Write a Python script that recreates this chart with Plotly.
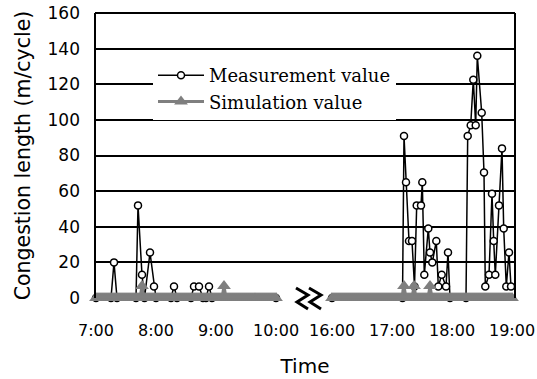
import plotly.graph_objects as go

# ---------------- data ----------------
GAP = 56  # width of the axis break (in axis minutes) between 10:00 and 16:00

tick_labels = ["7:00", "8:00", "9:00", "10:00", "16:00", "17:00", "18:00", "19:00"]
y_ticks = [0, 20, 40, 60, 80, 100, 120, 140, 160]

# Measurement, morning segment (minutes after 7:00)
meas1_min = [0, 15, 18, 21, 40, 42, 46, 48.5, 54, 58, 60, 75, 78, 81, 95, 98, 103,
             107, 110, 113, 116, 180]
meas1_val = [0, 0, 20, 0, 0, 52, 13, 0, 25.5, 6.5, 0, 0, 6.5, 0, 0, 6.5, 6.5,
             0, 0, 6.5, 0, 0]

# Measurement, evening segment (minutes after 16:00)
meas2_min = [0, 70.5, 72, 74, 77, 80, 82.5, 84.7, 89, 90.3,
             92.3, 96.3, 98, 100.3, 104.3, 106.3, 109.7, 114, 116, 118,
             134, 135.7, 138.7, 141.3, 143.7, 145.3, 149.7, 152, 153.3, 157,
             160, 161.7, 163.3, 167, 170, 171.7, 174.3, 177, 179]
meas2_val = [0, 0, 91, 65, 32, 32, 6.5, 52, 52, 65,
             13, 39, 25.5, 20, 32, 6.5, 13, 6.5, 25.5, 0,
             0, 91, 97, 122.5, 97, 136, 104, 70.5, 6.5, 13,
             58.5, 32, 13, 52, 84, 39, 6.5, 25.5, 6.5]

# Simulation, one value per 2-minute cycle
sim_cycle_min = list(range(0, 181, 2))
sim1_val = [0, 0, 0, 0, 0, 0, 0, 0, 0, 0,
            0, 0, 0, 0, 0, 0, 0, 0, 0, 0,
            0, 0, 0, 6.7, 0, 0, 0, 0, 0, 0,
            0, 0, 0, 0, 0, 0, 0, 0, 0, 0,
            0, 0, 0, 0, 0, 0, 0, 0, 0, 0,
            0, 0, 0, 0, 0, 0, 0, 0, 0, 0,
            0, 0, 0, 0, 6.7, 0, 0, 0, 0, 0,
            0, 0, 0, 0, 0, 0, 0, 0, 0, 0,
            0, 0, 0, 0, 0, 0, 0, 0, 0, 0,
            0]
sim2_val = [0, 0, 0, 0, 0, 0, 0, 0, 0, 0,
            0, 0, 0, 0, 0, 0, 0, 0, 0, 0,
            0, 0, 0, 0, 0, 0, 0, 0, 0, 0,
            0, 0, 0, 0, 0, 0, 6.7, 0, 0, 0,
            0, 6.7, 0, 0, 0, 0, 0, 0, 0, 6.7,
            0, 0, 0, 0, 0, 0, 0, 0, 0, 0,
            0, 0, 0, 0, 0, 0, 0, 0, 0, 0,
            0, 0, 0, 0, 0, 0, 0, 0, 0, 0,
            0, 0, 0, 0, 0, 0, 0, 0, 0, 0,
            0]

# ---------------- helpers ----------------
def seg2(m):
    return [v + 180 + GAP for v in m]

def label_pos(lbl):
    h, mm = map(int, lbl.split(":"))
    return (h - 7) * 60 + mm if h < 12 else (h - 16) * 60 + mm + 180 + GAP

# ---------------- figure ----------------
fig = go.Figure()

meas_x = meas1_min + [None] + seg2(meas2_min)
meas_y = meas1_val + [None] + meas2_val
sim_x = sim_cycle_min + [None] + seg2(sim_cycle_min)
sim_y = sim1_val + [None] + sim2_val

fig.add_trace(go.Scatter(
    x=meas_x, y=meas_y, mode="lines+markers", name="Measurement value",
    line=dict(color="black", width=1.5),
    marker=dict(symbol="circle", size=7, color="white",
                line=dict(color="black", width=1.5)),
    cliponaxis=False, connectgaps=False))

fig.add_trace(go.Scatter(
    x=sim_x, y=sim_y, mode="lines+markers", name="Simulation value",
    line=dict(color="#7f7f7f", width=3),
    marker=dict(symbol="triangle-up", size=12, color="#7f7f7f"),
    cliponaxis=False, connectgaps=False))

W, H = 537, 379
L, R, T, B = 95, 22, 13, 81
pw, ph = W - L - R, H - T - B

def px(x):
    return (x - L) / pw

def py(y):
    return (H - B - y) / ph

shapes = []
# frame: left, top, right
for (x0, y0, x1, y1) in [(0, 0, 0, 1), (0, 1, 1, 1), (1, 0, 1, 1)]:
    shapes.append(dict(type="line", xref="paper", yref="paper", x0=x0, y0=y0,
                       x1=x1, y1=y1, line=dict(color="black", width=2), layer="above"))
# white gap in the bottom line at the break
shapes.append(dict(type="rect", xref="paper", yref="paper",
                   x0=px(290), x1=px(324), y0=py(304), y1=py(292),
                   fillcolor="white", line=dict(width=0), layer="above"))
# break symbol: two zigzags
for gx in (296, 309):
    path = "M {} {} L {} {} L {} {} L {} {}".format(
        px(gx), py(288), px(gx + 12), py(295), px(gx + 1), py(302), px(gx + 12), py(309))
    shapes.append(dict(type="path", xref="paper", yref="paper", path=path,
                       line=dict(color="black", width=3), layer="above"))

fig.update_layout(
    width=W, height=H,
    margin=dict(l=L, r=R, t=T, b=B, autoexpand=False),
    paper_bgcolor="white", plot_bgcolor="white",
    showlegend=True,
    legend=dict(x=px(153), y=py(57), xanchor="left", yanchor="top",
                bgcolor="white", borderwidth=0, itemwidth=46,
                font=dict(family="DejaVu Serif", size=18, color="black"),
                tracegroupgap=0),
    shapes=shapes,
    xaxis=dict(range=[-1, 419], showgrid=False, zeroline=False, showline=False,
               automargin=False,
               tickvals=[label_pos(t) for t in tick_labels], ticktext=tick_labels,
               ticks="", tickfont=dict(family="DejaVu Sans", size=16, color="black"),
               ticklabelstandoff=21,
               title=dict(text="Time", font=dict(family="DejaVu Sans", size=20, color="black"),
                          standoff=19)),
    yaxis=dict(range=[0, 160], tickvals=y_ticks, showgrid=True, gridcolor="black",
               gridwidth=1.5, zeroline=False, showline=False, ticks="",
               automargin=False,
               tickfont=dict(family="DejaVu Sans", size=17, color="black"),
               ticklabelstandoff=14,
               title=dict(text="Congestion length (m/cycle)",
                          font=dict(family="DejaVu Sans", size=20.5, color="black"),
                          standoff=11)),
)

fig.write_html("out.html")
